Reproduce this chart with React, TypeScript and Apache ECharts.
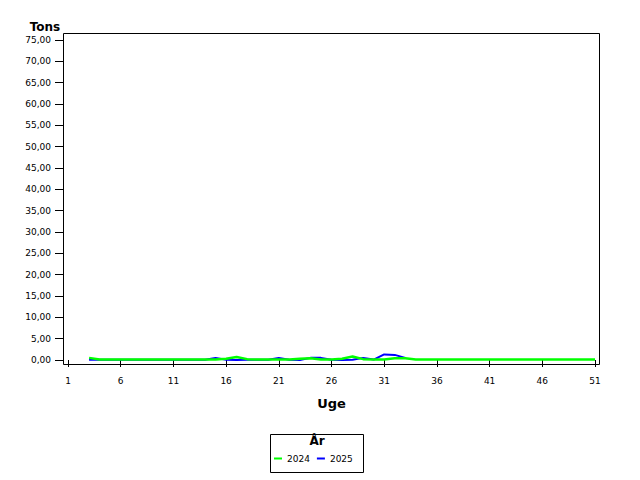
import { useRef, useEffect } from "react";
import * as echarts from "echarts";

// uge 1..51
const weeks = Array.from({ length: 51 }, (_, i) => String(i + 1));

// tons per uge (null = ingen data)
const tons2024 = [
  null, null, 0.5, 0.1, 0.1, 0.1, 0.1, 0.1, 0.1, 0.1,
  0.1, 0.1, 0.1, 0.1, 0.1, 0.3, 0.7, 0.2, 0.1, 0.1,
  0.1, 0.1, 0.3, 0.4, 0.1, 0.1, 0.3, 0.8, 0.2, 0.1,
  0.1, 0.4, 0.4, 0.1, 0.1, 0.1, 0.1, 0.1, 0.1, 0.1,
  0.1, 0.1, 0.1, 0.1, 0.1, 0.1, 0.1, 0.1, 0.1, 0.1,
  0.1,
];

const tons2025 = [
  null, null, 0.05, 0.05, 0.05, 0.05, 0.05, 0.05, 0.05, 0.05,
  0.05, 0.05, 0.05, 0.05, 0.5, 0.05, 0, 0.05, 0.05, 0.05,
  0.5, 0.05, 0, 0.5, 0.5, 0.05, 0, 0.05, 0.5, 0.1,
  1.3, 1.2, 0.5,
];

const FONT = "DejaVu Sans";

const fmt = (v: number) => v.toFixed(2).replace(".", ",");

export default function App() {
  const chartRef = useRef<HTMLDivElement>(null);

  useEffect(() => {
    document.body.style.margin = "0";
    if (!chartRef.current) return;
    const chart = echarts.init(chartRef.current, null, { renderer: "svg" });

    chart.setOption({
      animation: false,
      backgroundColor: "#fff",
      textStyle: { fontFamily: FONT, color: "#000" },
      grid: { left: 68, right: 45, top: 40, bottom: 120 },
      xAxis: {
        type: "category",
        data: weeks,
        boundaryGap: false,
        offset: 5,
        axisLine: { show: false },
        axisTick: {
          show: true,
          interval: 4,
          length: 7,
          lineStyle: { color: "#000" },
        },
        axisLabel: {
          interval: 4,
          margin: 11,
          fontSize: 9,
          fontFamily: FONT,
          color: "#000",
        },
        splitLine: { show: false },
        name: "Uge",
        nameLocation: "middle",
        nameGap: 32,
        nameTextStyle: { fontSize: 13, fontWeight: "bold", fontFamily: FONT, color: "#000" },
      },
      yAxis: {
        type: "value",
        min: 0,
        max: 75,
        interval: 5,
        offset: 5,
        axisLine: { show: false },
        axisTick: { show: true, length: 8, lineStyle: { color: "#000" } },
        axisLabel: {
          margin: 12,
          fontSize: 9,
          fontFamily: FONT,
          color: "#000",
          formatter: fmt,
        },
        splitLine: { show: false },
      },
      legend: {
        data: ["2024", "2025"],
        left: 274,
        top: 454,
        padding: 0,
        icon: "rect",
        itemWidth: 8,
        itemHeight: 2,
        itemGap: 7,
        textStyle: { fontSize: 9, fontFamily: FONT, color: "#000" },
      },
      graphic: [
        {
          type: "rect",
          shape: { x: 63.5, y: 33.5, width: 536, height: 331 },
          style: { fill: "none", stroke: "#000", lineWidth: 1 },
          silent: true,
        },
        {
          type: "text",
          x: 45,
          y: 27,
          style: {
            text: "Tons",
            fontSize: 12,
            fontWeight: "bold",
            fontFamily: FONT,
            fill: "#000",
            align: "center",
            verticalAlign: "middle",
          },
        },
        {
          type: "rect",
          shape: { x: 270.5, y: 434.5, width: 93, height: 38 },
          style: { fill: "none", stroke: "#000", lineWidth: 1 },
          silent: true,
        },
        {
          type: "text",
          x: 317,
          y: 441,
          style: {
            text: "År",
            fontSize: 12,
            fontWeight: "bold",
            fontFamily: FONT,
            fill: "#000",
            align: "center",
            verticalAlign: "middle",
          },
        },
      ],
      series: [
        {
          name: "2025",
          type: "line",
          data: tons2025,
          showSymbol: false,
          symbol: "none",
          itemStyle: { color: "#0000ff" },
          lineStyle: { color: "#0000ff", width: 2 },
        },
        {
          name: "2024",
          type: "line",
          data: tons2024,
          showSymbol: false,
          symbol: "none",
          itemStyle: { color: "#00ff00" },
          lineStyle: { color: "#00ff00", width: 2.5 },
        },
      ],
    });

    return () => {
      chart.dispose();
    };
  }, []);

  return <div ref={chartRef} style={{ width: 640, height: 480 }} />;
}
